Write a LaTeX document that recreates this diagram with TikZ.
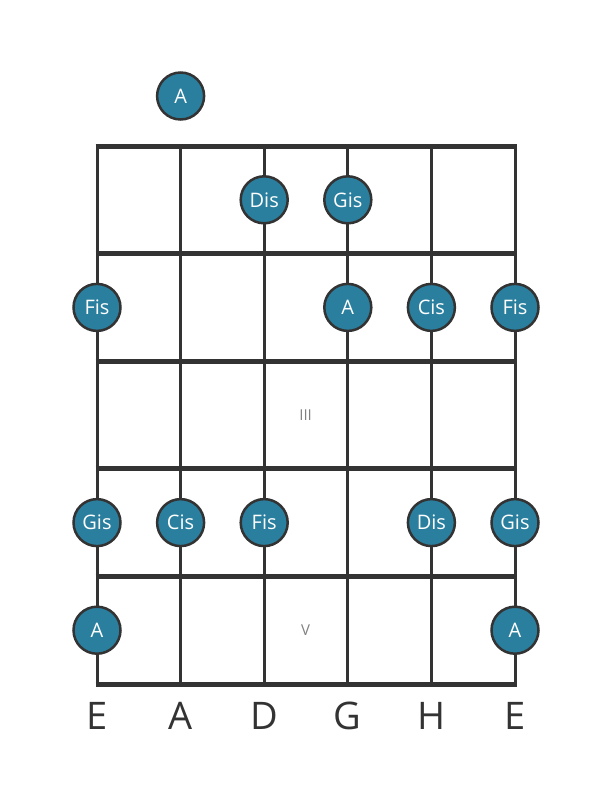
\documentclass[tikz,border=0pt]{standalone}
\usepackage{fontspec}
\setmainfont{Open Sans}
\definecolor{notefill}{HTML}{2A7F9E}
\definecolor{neckgray}{HTML}{333333}
\begin{document}
\begin{tikzpicture}[
        x=1pt, y=-1pt,
        note/.style={circle, draw=neckgray, line width=2.5pt, fill=notefill, minimum size=47pt, inner sep=0pt, text=white, font=\fontsize{20}{20}\selectfont},
        stringname/.style={text=neckgray, font=\fontsize{38}{38}\selectfont},
        fretnum/.style={text=gray, font=\fontsize{15}{15}\selectfont}
    ]
        \useasboundingbox (0,0) rectangle (611,801);

        % Strings and frets
        \foreach \x in {97,180.6,264.2,347.8,431.4,515}
            \draw[neckgray, line width=3pt] (\x,146) -- (\x,684);
        \foreach \y in {146,253.6,361.2,468.8,576.4,684}
            \draw[neckgray, line width=5pt] (95.5,\y) -- (516.5,\y);

        % Fret numbers
        \node[fretnum] (fretIII) at (305.6,415) {III};
        \node[fretnum] (fretV) at (305.6,630.2) {V};

        % Notes
        \node[note] (openA) at (180.6,96) {A};
        \node[note] (disD) at (264.2,199.8) {Dis};
        \node[note] (gisG) at (347.8,199.8) {Gis};
        \node[note] (fisLow) at (97,307.4) {Fis};
        \node[note] (aG) at (347.8,307.4) {A};
        \node[note] (cisH) at (431.4,307.4) {Cis};
        \node[note] (fisHigh) at (515,307.4) {Fis};
        \node[note] (gisLow) at (97,522.6) {Gis};
        \node[note] (cisA) at (180.6,522.6) {Cis};
        \node[note] (fisD) at (264.2,522.6) {Fis};
        \node[note] (disH) at (431.4,522.6) {Dis};
        \node[note] (gisHigh) at (515,522.6) {Gis};
        \node[note] (aLow) at (97,630.2) {A};
        \node[note] (aHigh) at (515,630.2) {A};

        % String names
        \node[stringname] (nameLowE) at (97,716) {E};
        \node[stringname] (nameA) at (180.6,716) {A};
        \node[stringname] (nameD) at (264.2,716) {D};
        \node[stringname] (nameG) at (347.8,716) {G};
        \node[stringname] (nameH) at (431.4,716) {H};
        \node[stringname] (nameHighE) at (515,716) {E};
    \end{tikzpicture}
\end{document}
